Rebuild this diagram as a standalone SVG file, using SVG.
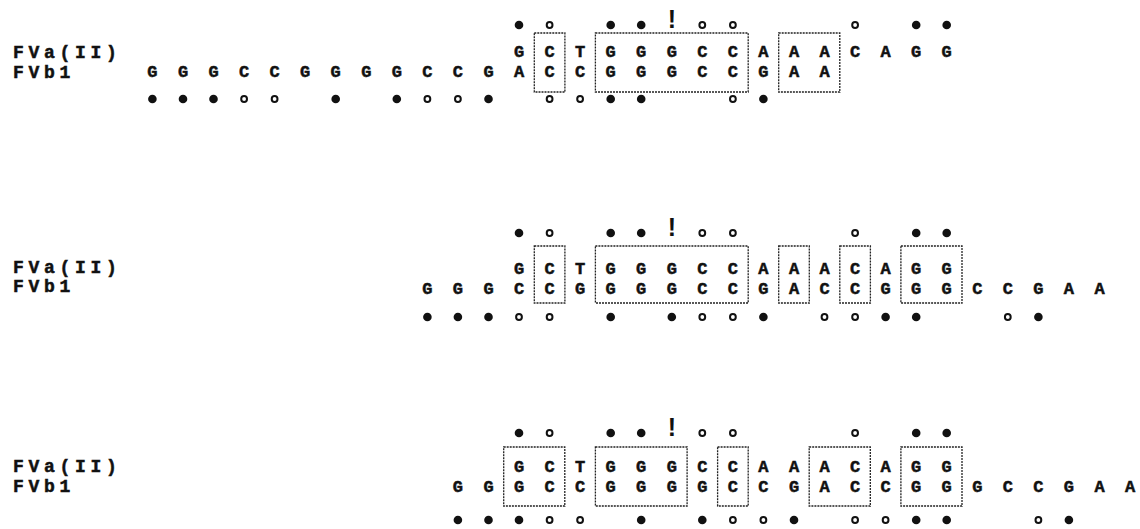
<svg xmlns="http://www.w3.org/2000/svg" width="1140" height="529" viewBox="0 0 1140 529">
<style>
.seq{font-family:"Liberation Mono","Courier New",monospace;font-weight:bold;font-size:17px;text-anchor:middle;fill:#111;stroke:#111;stroke-width:0.5}
.lbl{font-family:"Liberation Mono","Courier New",monospace;font-weight:bold;font-size:18px;letter-spacing:4.7px;fill:#111;stroke:#111;stroke-width:0.5}
.ex{font-family:"Liberation Sans",Arial,sans-serif;font-weight:bold;font-size:25px;text-anchor:middle;fill:#111}
.f{fill:#111}
.o{fill:none;stroke:#111;stroke-width:2}
.box{fill:none;stroke:#222;stroke-width:1.3;stroke-dasharray:2 1}
</style>
<defs>
<circle id="fd" r="4.3" class="f"/>
<circle id="od" r="2.9" class="o"/>
<g id="top">
<use href="#fd" x="519.0"/><use href="#od" x="549.6"/><use href="#fd" x="610.7"/><use href="#fd" x="641.2"/>
<use href="#od" x="702.3"/><use href="#od" x="732.9"/><use href="#od" x="855.1"/><use href="#fd" x="916.2"/><use href="#fd" x="946.7"/>
</g>
</defs>

<g id="panel1">
<text class="lbl" x="13" y="58">FVa(II)</text>
<text class="lbl" x="13" y="78">FVb1</text>
<use href="#top" y="25"/>
<text class="ex" x="671.8" y="28">!</text>
<text class="seq" y="57" x="519.0 549.6 580.1 610.7 641.2 671.8 702.3 732.9 763.4 794.0 824.5 855.1 885.6 916.2 946.7">GCTGGGCCAAACAGG</text>
<text class="seq" y="77" x="152.4 183.0 213.5 244.1 274.6 305.2 335.7 366.3 396.8 427.4 457.9 488.5 519.0 549.6 580.1 610.7 641.2 671.8 702.3 732.9 763.4 794.0 824.5">GGGCCGGGGCCGACCGGGCCGAA</text>
<g transform="translate(0,99)">
<use href="#fd" x="152.4"/><use href="#fd" x="183.0"/><use href="#fd" x="213.5"/><use href="#od" x="244.1"/><use href="#od" x="274.6"/>
<use href="#fd" x="335.7"/><use href="#fd" x="396.8"/><use href="#od" x="427.4"/><use href="#od" x="457.9"/><use href="#fd" x="488.5"/>
<use href="#od" x="549.6"/><use href="#od" x="580.1"/><use href="#fd" x="610.7"/><use href="#fd" x="641.2"/><use href="#od" x="732.9"/><use href="#fd" x="763.4"/>
</g>
<rect class="box" x="534.3" y="33" width="30.6" height="59"/>
<rect class="box" x="595.4" y="33" width="152.8" height="59"/>
<rect class="box" x="778.7" y="33" width="61.1" height="59"/>
</g>

<g id="panel2">
<text class="lbl" x="13" y="273">FVa(II)</text>
<text class="lbl" x="13" y="292">FVb1</text>
<use href="#top" y="233"/>
<text class="ex" x="671.8" y="236">!</text>
<text class="seq" y="274" x="519.0 549.6 580.1 610.7 641.2 671.8 702.3 732.9 763.4 794.0 824.5 855.1 885.6 916.2 946.7">GCTGGGCCAAACAGG</text>
<text class="seq" y="294" x="427.4 457.9 488.5 519.0 549.6 580.1 610.7 641.2 671.8 702.3 732.9 763.4 794.0 824.5 855.1 885.6 916.2 946.7 977.3 1007.8 1038.4 1068.9 1099.5">GGGCCGGGGCCGACCGGGCCGAA</text>
<g transform="translate(0,317)">
<use href="#fd" x="427.4"/><use href="#fd" x="457.9"/><use href="#fd" x="488.5"/><use href="#od" x="519.0"/><use href="#od" x="549.6"/>
<use href="#fd" x="610.7"/><use href="#fd" x="671.8"/><use href="#od" x="702.3"/><use href="#od" x="732.9"/><use href="#fd" x="763.4"/>
<use href="#od" x="824.5"/><use href="#od" x="855.1"/><use href="#fd" x="885.6"/><use href="#fd" x="916.2"/><use href="#od" x="1007.8"/><use href="#fd" x="1038.4"/>
</g>
<rect class="box" x="534.3" y="246" width="30.6" height="57"/>
<rect class="box" x="595.4" y="246" width="152.8" height="57"/>
<rect class="box" x="778.7" y="246" width="30.6" height="57"/>
<rect class="box" x="839.8" y="246" width="30.6" height="57"/>
<rect class="box" x="900.9" y="246" width="61.1" height="57"/>
</g>

<g id="panel3">
<text class="lbl" x="13" y="472">FVa(II)</text>
<text class="lbl" x="13" y="492">FVb1</text>
<use href="#top" y="433"/>
<text class="ex" x="671.8" y="436">!</text>
<text class="seq" y="472" x="519.0 549.6 580.1 610.7 641.2 671.8 702.3 732.9 763.4 794.0 824.5 855.1 885.6 916.2 946.7">GCTGGGCCAAACAGG</text>
<text class="seq" y="492" x="457.9 488.5 519.0 549.6 580.1 610.7 641.2 671.8 702.3 732.9 763.4 794.0 824.5 855.1 885.6 916.2 946.7 977.3 1007.8 1038.4 1068.9 1099.5 1130.0">GGGCCGGGGCCGACCGGGCCGAA</text>
<g transform="translate(0,520)">
<use href="#fd" x="457.9"/><use href="#fd" x="488.5"/><use href="#fd" x="519.0"/><use href="#od" x="549.6"/><use href="#od" x="580.1"/>
<use href="#fd" x="641.2"/><use href="#fd" x="702.3"/><use href="#od" x="732.9"/><use href="#od" x="763.4"/><use href="#fd" x="794.0"/>
<use href="#od" x="855.1"/><use href="#od" x="885.6"/><use href="#fd" x="916.2"/><use href="#fd" x="946.7"/><use href="#od" x="1038.4"/><use href="#fd" x="1068.9"/>
</g>
<rect class="box" x="503.7" y="447" width="61.1" height="59"/>
<rect class="box" x="595.4" y="447" width="91.7" height="59"/>
<rect class="box" x="717.6" y="447" width="30.6" height="59"/>
<rect class="box" x="809.2" y="447" width="61.1" height="59"/>
<rect class="box" x="900.9" y="447" width="61.1" height="59"/>
</g>
</svg>
